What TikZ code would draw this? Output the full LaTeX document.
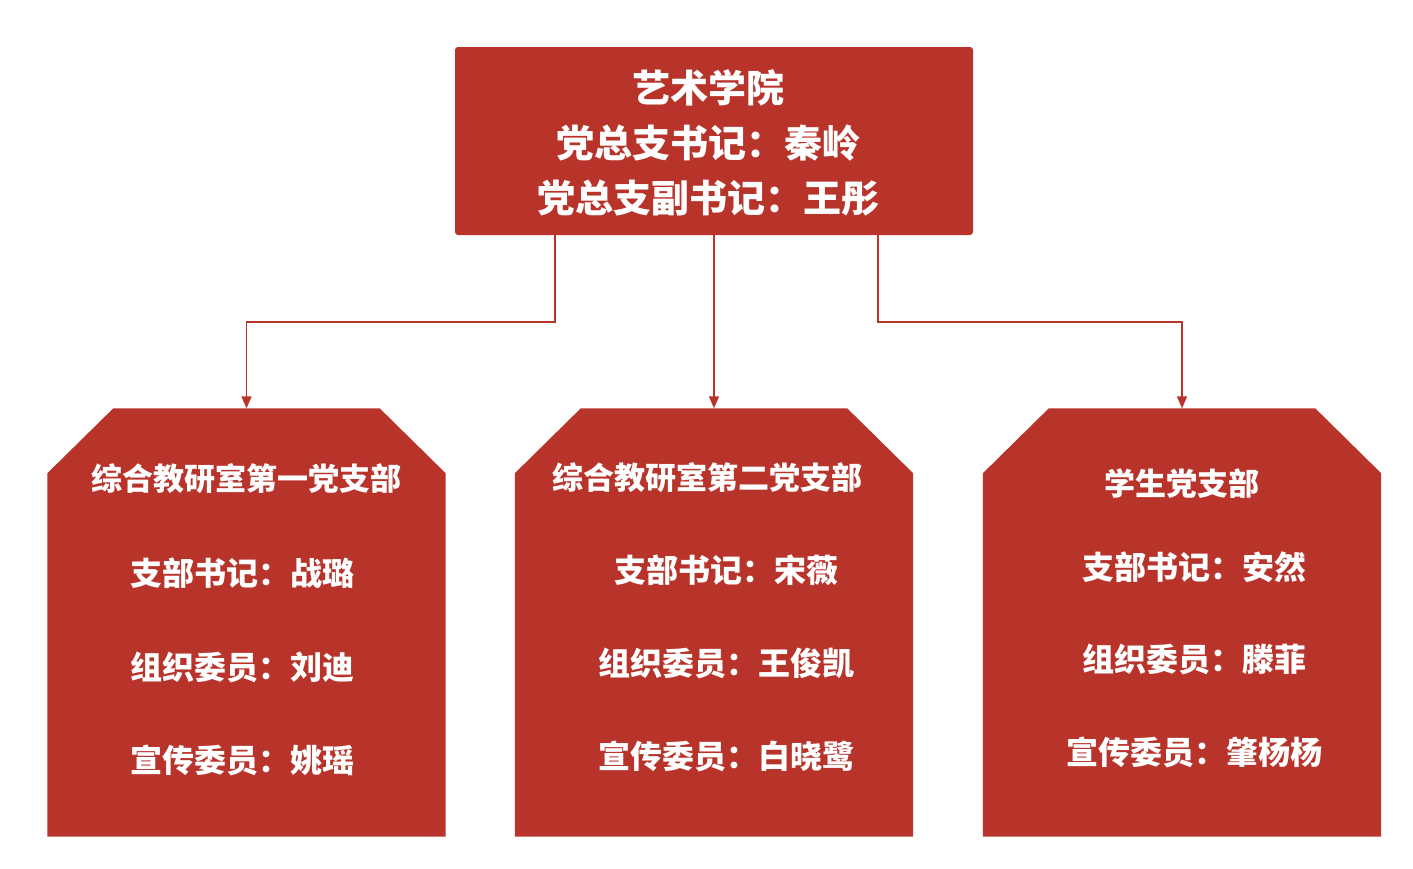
\documentclass[tikz,border=0pt]{standalone}
\usepackage{fontspec}
\newfontfamily\cjk{Noto Sans CJK SC}
\usetikzlibrary{arrows.meta}
\definecolor{orgred}{RGB}{184,51,42}
\begin{document}
\begin{tikzpicture}[x=1pt,y=-1pt,
    headbox/.style={fill=orgred,rounded corners=3pt,minimum width=518pt,minimum height=188pt},
    headtext/.style={align=center,text=white,font=\cjk\bfseries\fontsize{38}{55}\selectfont},
    branch/.style={rectangle,minimum width=398pt,minimum height=428pt,inner sep=0pt},
    title/.style={text=white,font=\cjk\bfseries\fontsize{31}{31}\selectfont},
    member/.style={text=white,font=\cjk\bfseries\fontsize{32}{32}\selectfont},
    link/.style={draw=orgred,line width=1.5pt,-{Triangle[length=12pt,width=10pt]}}]
			\useasboundingbox (0,0) rectangle (1413,868);
			\node[headbox] (top) at (714,141) {};
			\node[headtext] (toptext) at (708,143) {艺术学院\\党总支书记：秦岭\\党总支副书记：王彤};
			\node[branch] (b1) at (246.5,622.5) {};
			\node[branch] (b2) at (714,622.5) {};
			\node[branch] (b3) at (1182,622.5) {};
			% cut top corners of the branch boxes
			\foreach \b in {b1,b2,b3}
				\fill[orgred] ([xshift=66pt]\b.north west) -- ([xshift=-66pt]\b.north east) -- ([yshift=-65pt]\b.north east) -- (\b.south east) -- (\b.south west) -- ([yshift=-65pt]\b.north west) -- cycle;
			\draw[link] ([xshift=-159pt]top.south) -- ++(0,87) -| (b1.north);
			\draw[link] (top.south) -- (b2.north);
			\draw[link] ([xshift=164pt]top.south) -- ++(0,87) -| (b3.north);
			\node[title] (b1h) at (246,479) {综合教研室第一党支部};
			\node[member] (b1a) at (242,573) {支部书记：战璐};
			\node[member] (b1b) at (242,667) {组织委员：刘迪};
			\node[member] (b1c) at (242,760) {宣传委员：姚瑶};
			\node[title] (b2h) at (707,478) {综合教研室第二党支部};
			\node[member] (b2a) at (726,570) {支部书记：宋薇};
			\node[member] (b2b) at (726,663) {组织委员：王俊凯};
			\node[member] (b2c) at (726,756) {宣传委员：白晓鹭};
			\node[title] (b3h) at (1182,484) {学生党支部};
			\node[member] (b3a) at (1194,567) {支部书记：安然};
			\node[member] (b3b) at (1194,659) {组织委员：滕菲};
			\node[member] (b3c) at (1194,752) {宣传委员：肇杨杨};
		\end{tikzpicture}
\end{document}
